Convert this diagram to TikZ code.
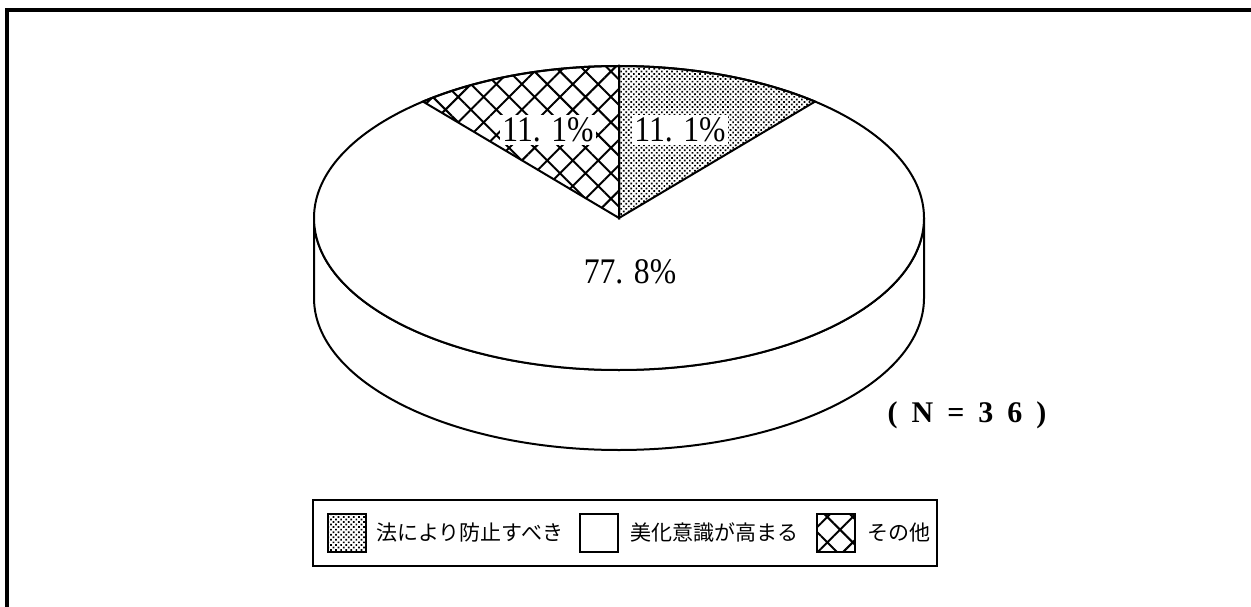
\documentclass[tikz,border=0pt]{standalone}
\usepackage{fontspec}
\setmainfont{Liberation Serif}
\newfontfamily\jpfont{Noto Sans CJK JP}
\usetikzlibrary{positioning}
\usetikzlibrary{patterns.meta}

\tikzset{
	dotfill/.style={pattern={Dots[distance=1.8pt,radius=0.6pt,angle=45]}},
	hatchfill/.style={pattern={Hatch[distance=9pt,angle=45,line width=1pt]}},
	pct/.style={fill=white, inner sep=1.5pt, xscale=0.88, font=\fontsize{18}{18}\selectfont},
	swatch/.style={draw, line width=1pt, minimum width=19pt, minimum height=19pt, inner sep=0pt},
	legtext/.style={inner sep=0pt, font=\jpfont\fontsize{10.5}{10.5}\selectfont},
}

\begin{document}
\begin{tikzpicture}[x=0.5pt, y=0.5pt, line width=1pt]
	\useasboundingbox (0,0) rectangle (1251,606);
	% Outer frame
	\draw[line width=1.6pt] (7,-10) -- (7,596) -- (1260,596);

	% Pie centre, top and bottom
	\coordinate (O) at (619,388);
	\coordinate (Ob) at (619,308);

	% Side of the pie
	\draw[fill=white] (314,388) -- (314,308)
		arc[start angle=180, end angle=360, x radius=152.5pt, y radius=76pt] -- (924,388)
		arc[start angle=0, end angle=-180, x radius=152.5pt, y radius=76pt] -- cycle;
	% Top of the pie
	\draw[fill=white] (O) ellipse[x radius=152.5pt, y radius=76pt];

	% Slices
	\draw[dotfill] (O) -- ([shift={(50:152.5pt and 76pt)}]O)
		arc[start angle=50, end angle=90, x radius=152.5pt, y radius=76pt] -- cycle;
	\draw[hatchfill] (O) -- ([shift={(90:152.5pt and 76pt)}]O)
		arc[start angle=90, end angle=130, x radius=152.5pt, y radius=76pt] -- cycle;

	% Percentages
	\node[pct] (pct-other) at (548,476) {11. 1\%};
	\node[pct] (pct-law) at (680,476) {11. 1\%};
	\node[pct, fill=none] (pct-main) at (630,334) {77. 8\%};

	% Sample size
	\node[font=\bfseries\fontsize{15}{15}\selectfont] (count) at (967,191)
		{(\hspace{7pt}N\hspace{7pt}=\hspace{7pt}3\hspace{7pt}6\hspace{7pt})};

	% Legend
	\node[draw, line width=1pt, minimum width=312pt, minimum height=33pt] (legend) at (625,73) {};
	\node[swatch, dotfill, anchor=west] (sw-law) at (327,73) {};
	\node[legtext, right=4pt of sw-law] (txt-law) {法により防止すべき};
	\node[swatch, right=7.5pt of txt-law] (sw-main) {};
	\node[legtext, right=5pt of sw-main] (txt-main) {美化意識が高まる};
	\node[swatch, hatchfill, right=8.5pt of txt-main] (sw-other) {};
	\node[legtext, right=5pt of sw-other] (txt-other) {その他};
\end{tikzpicture}
\end{document}
